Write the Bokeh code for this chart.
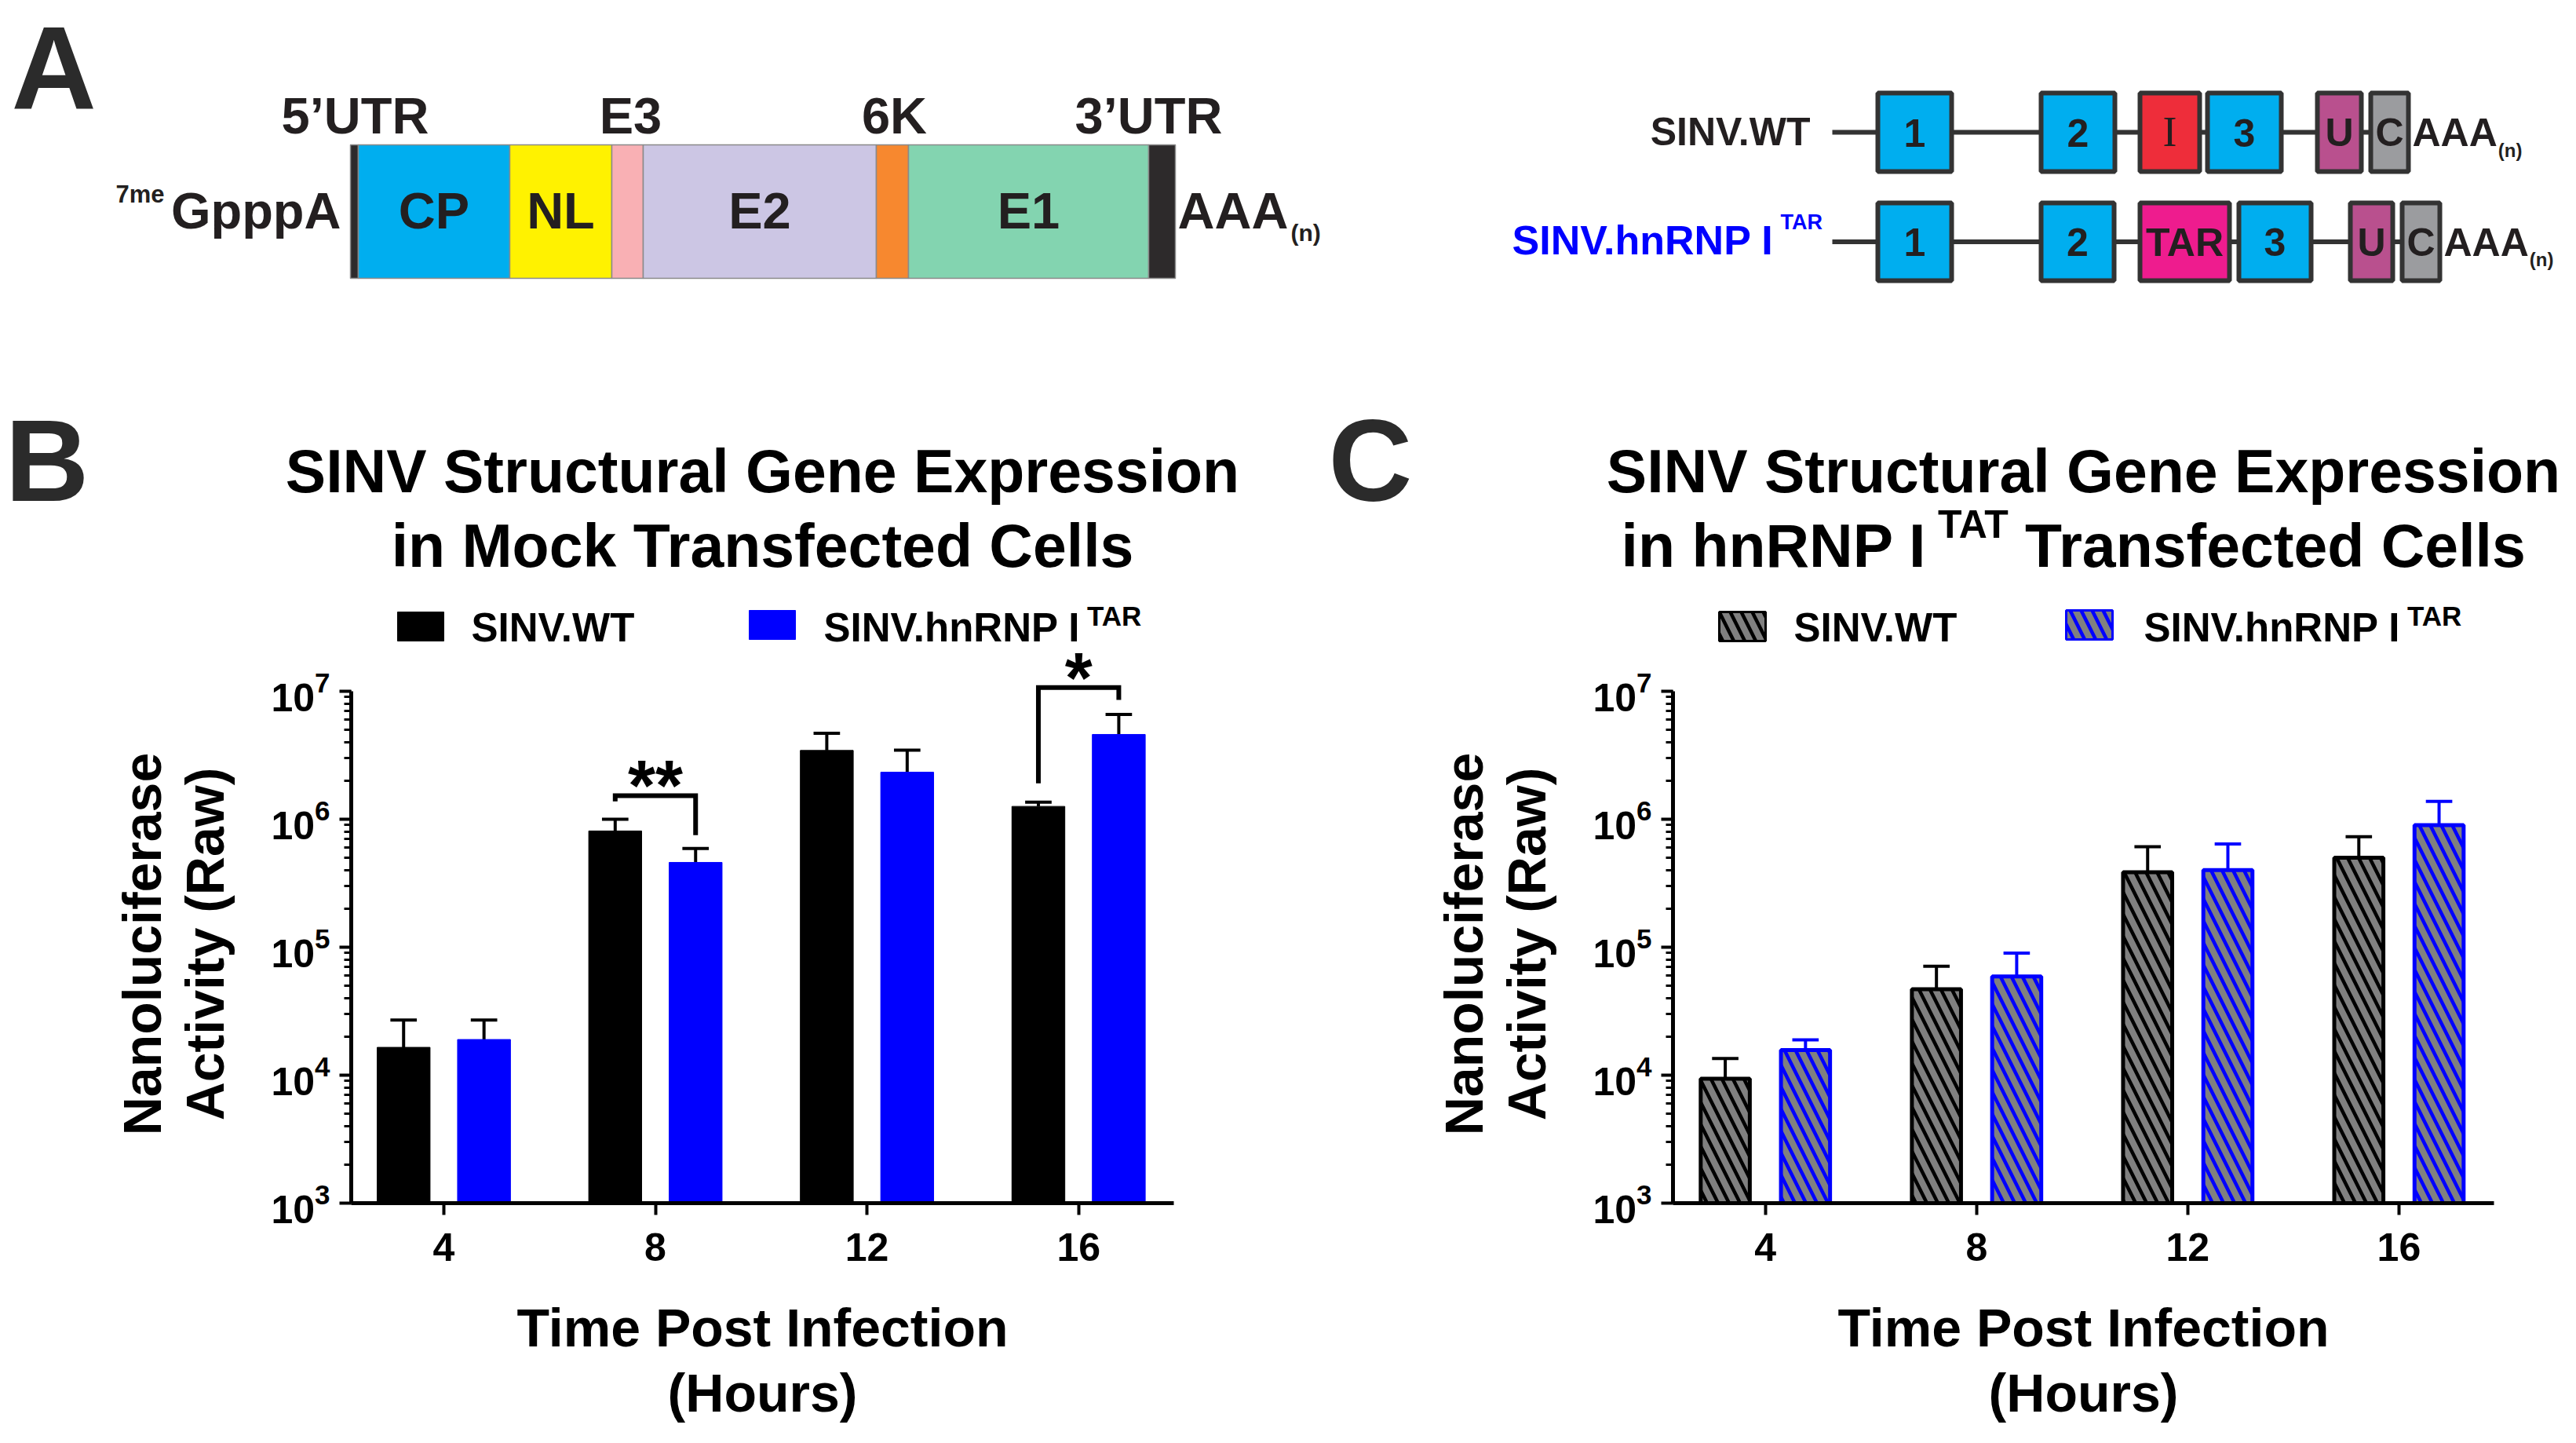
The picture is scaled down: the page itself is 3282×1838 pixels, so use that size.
import math
from bokeh.plotting import figure
from bokeh.models import Range1d, Label, FixedTicker
from bokeh.layouts import column, row
from bokeh.embed import file_html
from bokeh.resources import INLINE
from bokeh.core.properties import value

FONT = "Liberation Sans"
DARK = "#231f20"
LETTER = "#2b2b2b"
BLUE = "#0000ff"
K = 0.35          # baseline correction (fraction of font size)
PAGE_W, PAGE_H = 3282, 1838

# ---------------- chart data ----------------
hours = [4, 8, 12, 16]
y_tick_values = [1e3, 1e4, 1e5, 1e6, 1e7]

# panel B : mock transfected cells (mean, error)
mock_wt = [1.65e4, 8.1e5, 3.45e6, 1.26e6]
mock_wt_err = [1.05e4, 1.9e5, 1.25e6, 1.0e5]
mock_tar = [1.9e4, 4.6e5, 2.33e6, 4.6e6]
mock_tar_err = [8.0e3, 1.3e5, 1.14e6, 2.0e6]

# panel C : hnRNP I TAT transfected cells (mean, error)
tat_wt = [9.4e3, 4.7e4, 3.85e5, 5.0e5]
tat_wt_err = [4.1e3, 2.4e4, 2.25e5, 2.3e5]
tat_tar = [1.57e4, 5.9e4, 4.0e5, 9.0e5]
tat_tar_err = [3.2e3, 3.1e4, 2.4e5, 4.8e5]

# significance brackets in panel B
sig_hours = [8, 16]
sig_top = [1.53e6, 1.07e7]
sig_left_end = [1.38e6, 1.91e6]
sig_right_end = [7.5e5, 8.57e6]
sig_text = ["**", "*"]

# panel A : genome schematic
genome_labels = ["", "CP", "NL", "", "E2", "", "E1", ""]
genome_start = [446, 456, 649, 779, 819, 1116, 1157, 1463]
genome_end = [456, 649, 779, 819, 1116, 1157, 1463, 1497]
genome_colors = ["#2d2a2b", "#00aeef", "#fff200", "#f9b0b4", "#ccc6e4",
                 "#f7882f", "#83d4b0", "#2d2a2b"]
region_labels = ["5\u2019UTR", "E3", "6K", "3\u2019UTR"]
region_centers = [452, 803, 1139, 1463]

CYAN, RED, PURPLE, GREY, MAGENTA = "#00aeef", "#ee2d3a", "#b9508e", "#9b9c9f", "#ee1c8e"
wt_box_left = [2392, 2600, 2726, 2812, 2952, 3020]
wt_box_right = [2486, 2694, 2802, 2906, 3008, 3068]
wt_box_text = ["1", "2", "I", "3", "U", "C"]
wt_box_colors = [CYAN, CYAN, RED, CYAN, PURPLE, GREY]
tar_box_left = [2392, 2600, 2726, 2852, 2994, 3060]
tar_box_right = [2486, 2693, 2840, 2944, 3048, 3108]
tar_box_text = ["1", "2", "TAR", "3", "U", "C"]
tar_box_colors = [CYAN, CYAN, MAGENTA, CYAN, PURPLE, GREY]

# Arial/Liberation Sans Bold advance widths (1/1000 em) for text placement
AW = {' ': 278, '(': 333, ')': 333, '.': 278, 'A': 722, 'C': 722, 'E': 667, 'G': 778,
      'H': 722, 'I': 278, 'M': 833, 'N': 722, 'P': 667, 'R': 722, 'S': 667, 'T': 611,
      'U': 722, 'V': 667, 'W': 944, 'a': 556, 'c': 556, 'd': 611, 'e': 556, 'f': 333,
      'h': 611, 'i': 278, 'k': 556, 'l': 278, 'n': 611, 'o': 611, 'p': 611, 'r': 389,
      's': 556, 't': 333, 'u': 611, 'x': 556}


def tw(s, size):
    return sum(AW.get(c, 556) for c in s) * size / 1000.0


# ---------------- panel A ----------------
pa = figure(width=PAGE_W, height=400, x_range=Range1d(0, PAGE_W), y_range=Range1d(400, 0),
            x_axis_type=None, y_axis_type=None, output_backend="svg",
            toolbar_location=None, min_border=0)
pa.outline_line_color = None
pa.grid.grid_line_color = None


def atext(x, y, s, size, align="center", color=DARK, font=FONT, style="bold"):
    pa.text(x=[x], y=[y - K * size], text=[s], text_font=value(font),
            text_font_size=value(f"{size}px"), text_font_style=style, text_color=color,
            text_align=align, text_baseline="alphabetic")


atext(14, 138, "A", 150, align="left", color=LETTER)
pa.quad(left=genome_start, right=genome_end, top=184, bottom=354,
        fill_color=genome_colors, line_color="#8a8a8a", line_width=1.5)
for lab_, c in zip(region_labels, region_centers):
    atext(c, 170, lab_, 65)
for lab_, s, e in zip(genome_labels, genome_start, genome_end):
    if lab_:
        atext((s + e) / 2, 291, lab_, 65)
atext(434, 291, "GpppA", 65, align="right")
atext(209, 258, "7me", 31, align="right")
atext(1500, 291, "AAA", 65, align="left")
atext(1644, 306, "(n)", 30, align="left")

# construct rows
for (lefts, rights, texts, cols, top, bot) in [
        (wt_box_left, wt_box_right, wt_box_text, wt_box_colors, 118, 218),
        (tar_box_left, tar_box_right, tar_box_text, tar_box_colors, 258, 357)]:
    yc = (top + bot) / 2
    pa.line(x=[2334, lefts[-1]], y=[yc, yc], line_width=6, line_color="#333333")
    pa.quad(left=lefts, right=rights, top=top, bottom=bot, fill_color=cols,
            line_color="#333333", line_width=6)
    for l, r, t in zip(lefts, rights, texts):
        if t == "I":
            atext((l + r) / 2, yc + 18, t, 54, font="Liberation Serif", style="normal")
        else:
            atext((l + r) / 2, yc + 18, t, 50)
    atext(rights[-1] + 5, yc + 18, "AAA", 50, align="left")
    atext(rights[-1] + 5 + tw("AAA", 50) + 1, yc + 31, "(n)", 24, align="left")
atext(2306, 185, "SINV.WT", 50, align="right")
atext(1926, 324, "SINV.hnRNP I", 52, align="left", color=BLUE)
atext(1926 + tw("SINV.hnRNP I", 52) + 4, 292, "TAR", 27, align="left", color=BLUE)

# ---------------- panels B and C ----------------
XR = (2.25, 17.8)
PX_DEC = 163.0
AX_TOP, AX_BOT = 880, 1532
FIG_TOP = 400
OFF = 0.76


def make_panel(page_left, page_right, fx, fr):
    ppu = (fr - fx) / (XR[1] - XR[0])

    def xd(X):
        return XR[0] + (X - fx) / ppu

    def yd(Y):
        return 10 ** (7 + (AX_TOP - Y) / PX_DEC)

    p = figure(width=page_right - page_left, height=PAGE_H - FIG_TOP,
               x_range=Range1d(xd(page_left), xd(page_right)),
               y_range=Range1d(yd(PAGE_H), yd(FIG_TOP)), y_axis_type="log",
               output_backend="svg", toolbar_location=None, min_border=0)
    p.outline_line_color = None
    p.grid.grid_line_color = None
    yax = p.yaxis[0]
    yax.fixed_location = XR[0]
    yax.bounds = (y_tick_values[0], y_tick_values[-1])
    yax.ticker.desired_num_ticks = 12
    yax.minor_tick_out = 9
    yax.minor_tick_in = 0
    yax.minor_tick_line_width = 3
    xax = p.xaxis[0]
    xax.fixed_location = y_tick_values[0]
    xax.bounds = XR
    xax.ticker = FixedTicker(ticks=hours, minor_ticks=[])
    for ax in (xax, yax):
        ax.axis_line_width = 5
        ax.axis_line_color = "black"
        ax.major_tick_line_width = 4
        ax.major_tick_out = 15
        ax.major_tick_in = 0
        ax.major_label_text_font = FONT
        ax.major_label_text_font_style = "bold"
        ax.major_label_text_font_size = "50px"
        ax.major_label_text_color = "black"
        ax.major_label_standoff = 12
    xax.major_label_standoff = 23

    def lab(X, Y, text, size, align="left", color="black", angle=0.0, font=FONT):
        if angle:
            X = X - K * size
        else:
            Y = Y - K * size
        p.add_layout(Label(x=X - page_left, y=PAGE_H - Y, x_units="screen", y_units="screen",
                           text=text, text_font=font, text_font_size=f"{size}px",
                           text_font_style="bold", text_color=color, text_align=align,
                           text_baseline="alphabetic", angle=angle))
    return p, xd, yd, lab


def common_text(lab, fx, fr, letter, letter_x, bx):
    cx = (fx + fr) / 2
    lab(letter_x, 638, letter, 148, color=LETTER)
    lab(cx, 626, "SINV Structural Gene Expression", 77, align="center")
    lab(bx, 1202, "Nanoluciferase", 68, align="center", angle=math.pi / 2)
    lab(bx + 80, 1202, "Activity (Raw)", 68, align="center", angle=math.pi / 2)
    lab(cx, 1714, "Time Post Infection", 68, align="center")
    lab(cx, 1797, "(Hours)", 68, align="center")


def bars(p, vals, errs, offset, color, err_color, hatch, width, lw):
    xs = [h + offset for h in hours]
    ups = [v + e for v, e in zip(vals, errs)]
    kw = dict(fill_color=color, line_color=color, line_width=lw)
    if hatch:
        kw.update(hatch_pattern="\\", hatch_color="#808080", hatch_scale=28, hatch_weight=8)
    p.segment(x0=xs, y0=vals, x1=xs, y1=ups, line_width=4, line_color=err_color)
    p.segment(x0=[x - 0.25 for x in xs], y0=ups, x1=[x + 0.25 for x in xs], y1=ups,
              line_width=4, line_color=err_color)
    p.vbar(x=xs, width=width, top=vals, bottom=y_tick_values[0], **kw)


# Panel B
pb, xdb, ydb, labb = make_panel(0, 1650, 447, 1495)
bars(pb, mock_wt, mock_wt_err, -OFF, "black", "black", False, 1.0, 1)
bars(pb, mock_tar, mock_tar_err, OFF, BLUE, "black", False, 1.0, 1)
pb.multi_line(xs=[[h - OFF, h - OFF, h + OFF, h + OFF] for h in sig_hours],
              ys=[[a, t, t, b] for a, t, b in zip(sig_left_end, sig_top, sig_right_end)],
              line_width=6, line_color="black", line_join="miter")
for h, t, s in zip(sig_hours, sig_top, sig_text):
    pb.add_layout(Label(x=h, y=t * 10 ** (12.0 / PX_DEC), text=s, text_font=FONT,
                        text_font_size="90px", text_font_style="bold", text_color="black",
                        text_align="center", text_baseline="alphabetic"))
common_text(labb, 447, 1495, "B", 6, 204)
labb(971, 721, "in Mock Transfected Cells", 77, align="center")
pb.quad(left=xdb(506), right=xdb(565), top=ydb(779), bottom=ydb(816),
        fill_color="black", line_color="black")
labb(600, 817, "SINV.WT", 51)
pb.quad(left=xdb(954), right=xdb(1013), top=ydb(777), bottom=ydb(814),
        fill_color=BLUE, line_color=BLUE)
labb(1049, 817, "SINV.hnRNP I", 51)
labb(1049 + tw("SINV.hnRNP I", 51) + 4, 796, "TAR", 35)

# Panel C
pc, xdc, ydc, labc = make_panel(1650, PAGE_W, 2131, 3177)
bars(pc, tat_wt, tat_wt_err, -OFF, "black", "black", True, 0.93, 5)
bars(pc, tat_tar, tat_tar_err, OFF, BLUE, BLUE, True, 0.93, 5)
common_text(labc, 2131, 3177, "C", 1692, 1888)
seg1, seg2, seg3 = "in hnRNP I", "TAT", " Transfected Cells"
GAP = 14
total = tw(seg1, 77) + GAP + tw(seg2, 50) + GAP + tw(seg3, 77)
x0 = (2131 + 3177) / 2 - total / 2
labc(x0, 721, seg1, 77)
labc(x0 + tw(seg1, 77) + GAP, 685, seg2, 50)
labc(x0 + tw(seg1, 77) + GAP + tw(seg2, 50) + GAP, 721, seg3, 77)
pc.quad(left=xdc(2190), right=xdc(2249), top=ydc(779), bottom=ydc(816),
        fill_color="black", line_color="black", line_width=3,
        hatch_pattern="\\", hatch_color="#808080", hatch_scale=28, hatch_weight=8)
labc(2285, 817, "SINV.WT", 51)
pc.quad(left=xdc(2632), right=xdc(2691), top=ydc(777), bottom=ydc(814),
        fill_color=BLUE, line_color=BLUE, line_width=3,
        hatch_pattern="\\", hatch_color="#808080", hatch_scale=28, hatch_weight=8)
labc(2731, 817, "SINV.hnRNP I", 51)
labc(2731 + tw("SINV.hnRNP I", 51) + 4, 796, "TAR", 35)

layout = column(pa, row(pb, pc))
open("out.html", "w").write(file_html(layout, INLINE))
